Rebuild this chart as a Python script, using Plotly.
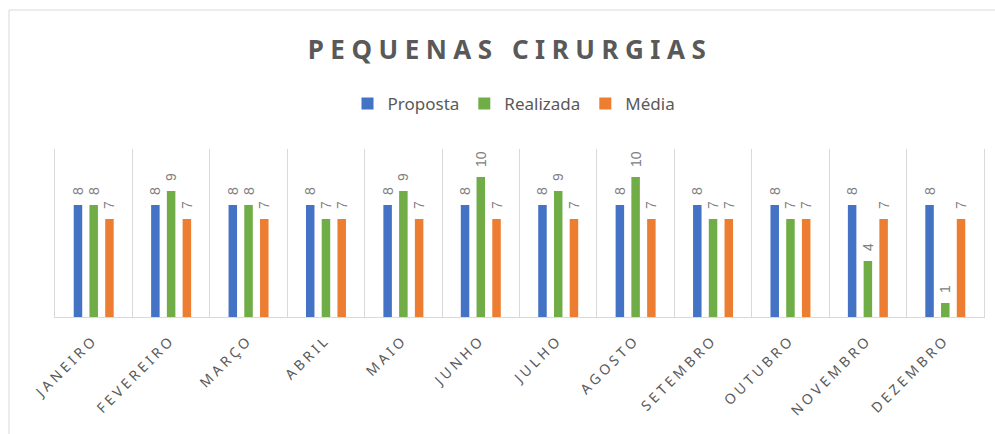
import plotly.graph_objects as go

months = ["JANEIRO", "FEVEREIRO", "MARÇO", "ABRIL", "MAIO", "JUNHO",
          "JULHO", "AGOSTO", "SETEMBRO", "OUTUBRO", "NOVEMBRO", "DEZEMBRO"]
proposta = [8, 8, 8, 8, 8, 8, 8, 8, 8, 8, 8, 8]
realizada = [8, 9, 8, 7, 9, 10, 9, 10, 7, 7, 4, 1]
media = [7, 7, 7, 7, 7, 7, 7, 7, 7, 7, 7, 7]

series = [("Proposta", proposta, "#4472C4"),
          ("Realizada", realizada, "#70AD47"),
          ("Média", media, "#ED7D31")]

W, H = 995, 434
L, R, T, B = 55, 11, 149, 117

fig = go.Figure()
for name, vals, col in series:
    fig.add_trace(go.Bar(
        x=months, y=vals, name=name, marker_color=col, marker_line_width=0,
        texttemplate="\u2002%{y}", textposition="outside", textangle=-90,
        constraintext="none",
        textfont=dict(size=14, color="#808080", family="Liberation Sans"),
        cliponaxis=False,
    ))

pw = W - L - R
ph = H - T - B
fig.update_layout(
    width=W, height=H,
    margin=dict(l=L, r=R, t=T, b=B),
    paper_bgcolor="white", plot_bgcolor="white",
    barmode="group", bargap=0.39, bargroupgap=0.46,
    font=dict(family="Noto Sans", color="#595959"),
    title=dict(text="<b>PEQUENAS CIRURGIAS</b>", xref="container", yref="container",
               x=510 / W, y=1 - 50 / H, xanchor="center", yanchor="middle",
               font=dict(size=26, color="#595959", family="Noto Sans")),
    legend=dict(orientation="h", xref="container", yref="container",
                x=514 / W, y=1 - 104 / H, xanchor="center", yanchor="middle",
                font=dict(size=17, color="#595959"), itemwidth=30,
                traceorder="normal"),
    xaxis=dict(tickson="boundaries", showgrid=True, gridcolor="#d9d9d9", gridwidth=1,
               showline=True, linecolor="#d9d9d9", ticks="", tickangle=-45,
               ticklabelstandoff=8,
               tickfont=dict(size=14, color="#595959", family="Noto Sans")),
    yaxis=dict(range=[0, 12], showticklabels=False, showgrid=False, zeroline=False,
               showline=True, mirror=True, linecolor="#d9d9d9", ticks=""),
    shapes=[dict(type="rect", xref="paper", yref="paper",
                 x0=(9 - L) / pw, x1=(1000 - L) / pw,
                 y0=-(440 - T - ph) / ph, y1=1 + (T - 10) / ph,
                 line=dict(color="#d9d9d9", width=1), fillcolor="rgba(0,0,0,0)",
                 layer="below")],
    showlegend=True,
)

post = """
document.body.style.margin='0';
function sp(){
 document.querySelectorAll('.xtick text').forEach(function(t){t.style.letterSpacing='3.5px';});
 document.querySelectorAll('.gtitle').forEach(function(t){t.style.letterSpacing='6.5px';});
}
sp(); setTimeout(sp, 50);
"""
fig.write_html("out.html", post_script=post, config={"displayModeBar": False})
